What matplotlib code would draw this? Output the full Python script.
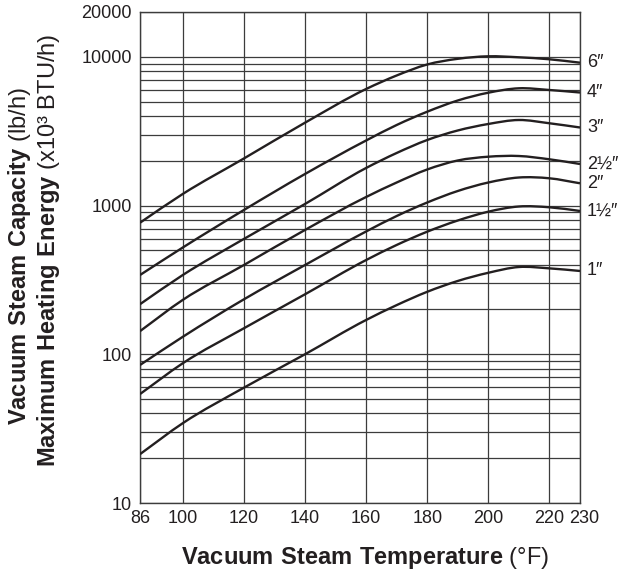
import numpy as np
import matplotlib
matplotlib.use('Agg')
import matplotlib.pyplot as plt
from matplotlib.ticker import FixedLocator, NullFormatter
from matplotlib.path import Path
from matplotlib.patches import PathPatch
from matplotlib.transforms import ScaledTranslation

plt.rcParams['font.family'] = ['Liberation Sans', 'DejaVu Sans']
plt.rcParams['mathtext.fontset'] = 'custom'
plt.rcParams['mathtext.rm'] = 'Liberation Sans'
plt.rcParams['mathtext.bf'] = 'Liberation Sans:bold'

temps = [86, 100, 120, 140, 160, 170, 180, 190, 200, 210, 220, 230]

# capacity (lb/h) per pipe size
cap_6 = [766, 1196, 2071, 3604, 6073, 7486, 8874, 9691, 10074, 9920, 9619, 9125]
cap_4 = [341, 522, 933, 1629, 2736, 3478, 4273, 5083, 5734, 6139, 5979, 5752]
cap_3 = [217, 341, 596, 1024, 1788, 2255, 2757, 3195, 3533, 3758, 3572, 3346]
cap_2h = [143, 232, 398, 685, 1141, 1428, 1747, 2008, 2129, 2152, 2045, 1902]
cap_2 = [84.7, 131, 234, 398, 669, 850, 1048, 1252, 1428, 1543, 1524, 1411]
cap_1h = [54, 87, 149.5, 253, 430, 543, 667, 793, 909, 985, 973, 919]
cap_1 = [21.3, 34.4, 59.6, 100, 170, 214, 263, 311, 353, 386, 378, 363]

sizes = ['6\u2033', '4\u2033', '3\u2033', '2\u00bd\u2033', '2\u2033',
         '1\u00bd\u2033', '1\u2033']
curves = [cap_6, cap_4, cap_3, cap_2h, cap_2, cap_1h, cap_1]

xticks = [86, 100, 120, 140, 160, 180, 200, 220, 230]
yticks = [10, 100, 1000, 10000, 20000]
ytick_labels = ['10', '100', '1000', '10000', '20000']

ink = '#231f20'
grid_col = '#3c3c3c'


def smooth_path(xs, ys):
    # bezier path through the read points (hermite slopes in log space)
    x = np.asarray(xs, float)
    ly = np.log10(ys)
    h = np.diff(x)
    d = np.diff(ly) / h
    s = np.empty_like(x)
    s[0] = d[0]
    s[-1] = d[-1]
    s[1:-1] = (d[:-1]*h[1:] + d[1:]*h[:-1]) / (h[:-1] + h[1:])
    verts = [(x[0], ys[0])]
    codes = [Path.MOVETO]
    for i in range(len(h)):
        verts.append((x[i] + h[i]/3, 10**(ly[i] + s[i]*h[i]/3)))
        verts.append((x[i+1] - h[i]/3, 10**(ly[i+1] - s[i+1]*h[i]/3)))
        verts.append((x[i+1], ys[i+1]))
        codes += [Path.CURVE4]*3
    return Path(verts, codes)


fig = plt.figure(figsize=(6.21, 5.72), dpi=100)
ax = fig.add_axes([140/621, 1 - 503/572, 440/621, 491/572])

ax.set_yscale('log')
ax.set_xlim(86, 230)
ax.set_ylim(10, 20000)

minor = [m * 10**k for k in range(1, 4) for m in range(2, 10)]
ax.yaxis.set_major_locator(FixedLocator(yticks))
ax.yaxis.set_minor_locator(FixedLocator(minor))
ax.yaxis.set_minor_formatter(NullFormatter())
ax.set_yticklabels(ytick_labels)
ax.set_xticks(xticks)
ax.set_xticklabels([str(t) for t in xticks])

ax.grid(which='both', axis='both', color=grid_col, lw=0.9)
ax.tick_params(which='both', length=0, labelsize=13, colors=ink)
ax.tick_params(axis='y', pad=6)
ax.tick_params(axis='x', pad=5)
for s in ax.spines.values():
    s.set_color(grid_col)
    s.set_linewidth(1.0)

# last x label sits a little right of the axis edge
last = ax.get_xticklabels()[-1]
last.set_transform(last.get_transform() +
                   ScaledTranslation(4/100, 0, fig.dpi_scale_trans))

for lab, vals in zip(sizes, curves):
    ax.add_patch(PathPatch(smooth_path(temps, vals), fill=False,
                           edgecolor=ink, lw=1.7, joinstyle='round',
                           capstyle='butt', zorder=3))
    ax.annotate(lab, xy=(temps[-1], vals[-1]), xytext=(5, 0),
                textcoords='offset points', ha='left', va='center',
                fontsize=13, color=ink, annotation_clip=False)

fig.text(20/621, 1 - 256/572,
         r'$\mathbf{Vacuum\ Steam\ Capacity}$ (lb/h)',
         rotation=90, ha='center', va='center', fontsize=17, color=ink)
fig.text(49/621, 1 - 250/572,
         r'$\mathbf{Maximum\ Heating\ Energy}$ (x10' + '\u00b3' + ' BTU/h)',
         rotation=90, ha='center', va='center', fontsize=17, color=ink)
fig.text(365/621, 1 - 558/572,
         r'$\mathbf{Vacuum\ Steam\ Temperature}$ ($\degree$F)',
         ha='center', va='center', fontsize=17, color=ink)

fig.savefig('out.png', dpi=100)
